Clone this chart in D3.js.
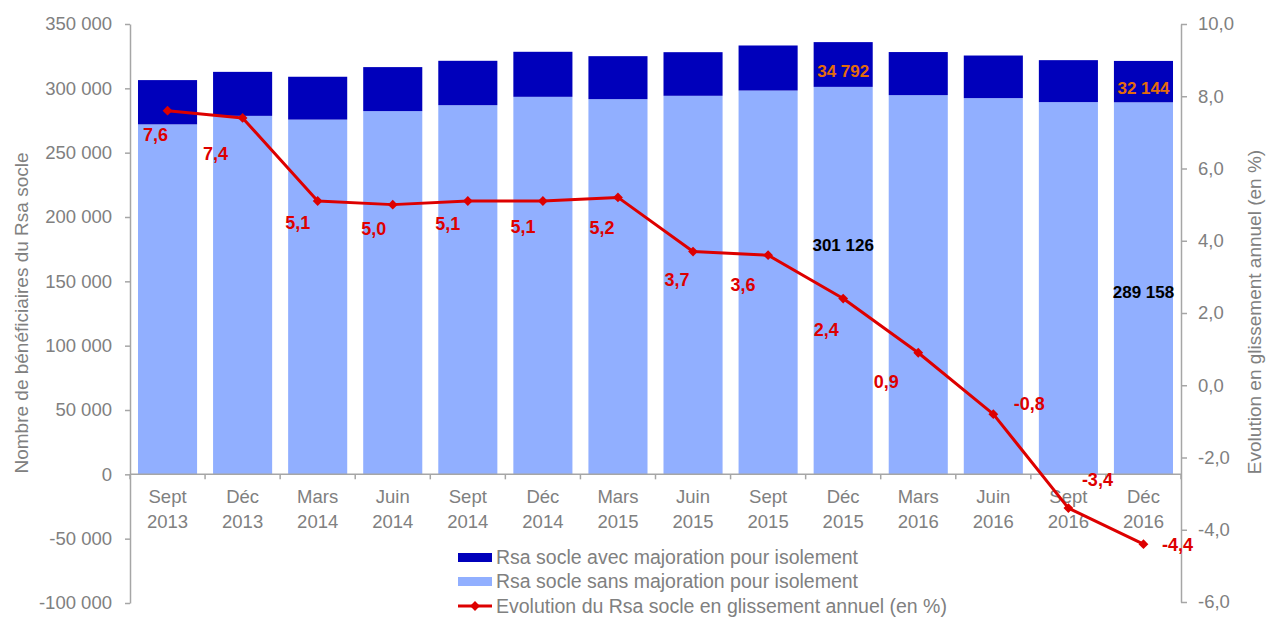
<!DOCTYPE html>
<html lang="fr">
<head>
<meta charset="utf-8">
<script src="https://cdn.jsdelivr.net/npm/d3@7"></script>
<style>
  body { margin: 0; background: #fff; }
  svg { display: block; font-family: "Liberation Sans", Arial, sans-serif; }
</style>
</head>
<body>
<svg id="chart" width="1266" height="617"></svg>
<script>
// Data
const categories = [
    "Sept 2013", "Déc 2013", "Mars 2014", "Juin 2014", "Sept 2014", "Déc 2014", "Mars 2015",
    "Juin 2015", "Sept 2015", "Déc 2015", "Mars 2016", "Juin 2016", "Sept 2016", "Déc 2016"
];
const sansMajoration = [272000, 278600, 275700, 282300, 286900, 293400, 291600, 294200, 298300, 301126, 294700, 292400, 289300, 289158];
const avecMajoration = [34400, 34200, 33300, 34200, 34500, 35000, 33400, 33900, 35000, 34792, 33500, 33100, 32600, 32144];
const evolution = [7.6, 7.4, 5.1, 5.0, 5.1, 5.1, 5.2, 3.7, 3.6, 2.4, 0.9, -0.8, -3.4, -4.4];
const leftTicks = [-100000, -50000, 0, 50000, 100000, 150000, 200000, 250000, 300000, 350000];
const rightTicks = [-6, -4, -2, 0, 2, 4, 6, 8, 10];
const seriesNames = [
    "Rsa socle avec majoration pour isolement",
    "Rsa socle sans majoration pour isolement",
    "Evolution du Rsa socle en glissement annuel (en %)"
];

// label placement (dx, dy from the marker), these were moved by hand in the original
const evolutionLabelOffsets = [[-12, 30], [-27, 42], [-20, 28], [-19, 30], [-20, 29], [-20, 32], [-16, 37],
    [-16, 34], [-25, 36], [-17, 37], [-32, 35], [36, -4], [29, -22], [34, 7]];
// only two bars carry value labels
const valueLabelIndexes = [9, 13];
const valueLabelShift = [-36, 4];

const colors = {
    avec: "#0000bb",
    sans: "#91afff",
    line: "#dd0000",
    orange: "#e46c0a",
    axis: "#a6a6a6",
    text: "#808080"
};

const fr = d3.formatLocale({ decimal: ",", thousands: " ", grouping: [3], currency: ["", " €"], minus: "-" });
const fmtLeft = fr.format(",d");
const fmtRight = fr.format(".1f");

const svg = d3.select("#chart");
const margin = { left: 130, right: 1181, top: 24, bottom: 603 };

const x = d3.scaleBand()
    .domain(categories)
    .range([margin.left, margin.right])
    .paddingInner(0.213)
    .paddingOuter(0.1065);

const yLeft = d3.scaleLinear().domain([-100000, 350000]).range([margin.bottom, margin.top]);
const yRight = d3.scaleLinear().domain([-6, 10]).range([margin.bottom - 1, margin.top]);

const rows = categories.map((c, i) => ({
    cat: c,
    sans: sansMajoration[i],
    avec: avecMajoration[i],
    evo: evolution[i]
}));

// stacked bars
const bars = svg.append("g").attr("class", "bars");
bars.selectAll("rect.sans")
    .data(rows)
    .join("rect")
    .attr("class", "sans")
    .attr("x", d => x(d.cat))
    .attr("width", x.bandwidth())
    .attr("y", d => yLeft(d.sans))
    .attr("height", d => yLeft(0) - yLeft(d.sans))
    .attr("fill", colors.sans);

bars.selectAll("rect.avec")
    .data(rows)
    .join("rect")
    .attr("class", "avec")
    .attr("x", d => x(d.cat))
    .attr("width", x.bandwidth())
    .attr("y", d => yLeft(d.sans + d.avec))
    .attr("height", d => yLeft(d.sans) - yLeft(d.sans + d.avec))
    .attr("fill", colors.avec);

// left axis
const leftAxis = svg.append("g")
    .attr("transform", `translate(${margin.left},0)`)
    .call(d3.axisLeft(yLeft).tickValues(leftTicks).tickFormat(fmtLeft).tickSize(5).tickPadding(13).tickSizeOuter(0));

// right axis
const rightAxis = svg.append("g")
    .attr("transform", `translate(${margin.right},0)`)
    .call(d3.axisRight(yRight).tickValues(rightTicks).tickFormat(fmtRight).tickSize(6).tickPadding(11).tickSizeOuter(0));

[leftAxis, rightAxis].forEach(g => {
    g.select(".domain").attr("stroke", colors.axis).attr("stroke-width", 1.5);
    g.selectAll(".tick line").attr("stroke", colors.axis).attr("stroke-width", 1.5);
    g.selectAll(".tick text")
        .attr("fill", colors.text)
        .style("font-size", "18.5px")
        .style("font-family", "'Liberation Sans', Arial, sans-serif");
});

// category axis sitting on the zero line
const zeroY = yLeft(0);
const xAxis = svg.append("g").attr("class", "x-axis");
xAxis.append("line")
    .attr("x1", margin.left).attr("x2", margin.right)
    .attr("y1", zeroY).attr("y2", zeroY)
    .attr("stroke", colors.axis).attr("stroke-width", 1.5);

const step = x.step();
xAxis.selectAll("line.tick")
    .data(d3.range(categories.length + 1))
    .join("line")
    .attr("class", "tick")
    .attr("x1", i => margin.left + i * step)
    .attr("x2", i => margin.left + i * step)
    .attr("y1", zeroY)
    .attr("y2", zeroY + 5)
    .attr("stroke", colors.axis).attr("stroke-width", 1.5);

const catLabels = xAxis.selectAll("text")
    .data(categories)
    .join("text")
    .attr("x", d => x(d) + x.bandwidth() / 2)
    .attr("y", zeroY + 29)
    .attr("text-anchor", "middle")
    .attr("fill", colors.text)
    .style("font-size", "18.5px");
catLabels.each(function (d) {
    const parts = d.split(" ");
    const t = d3.select(this);
    t.append("tspan").attr("x", t.attr("x")).text(parts[0]);
    t.append("tspan").attr("x", t.attr("x")).attr("dy", 25).text(parts[1]);
});

// axis titles
svg.append("text")
    .attr("transform", "translate(28,313) rotate(-90)")
    .attr("text-anchor", "middle")
    .attr("fill", colors.text)
    .style("font-size", "19px")
    .text("Nombre de bénéficiaires du Rsa socle");

svg.append("text")
    .attr("transform", "translate(1261,312) rotate(-90)")
    .attr("text-anchor", "middle")
    .attr("fill", colors.text)
    .style("font-size", "19px")
    .text("Evolution en glissement annuel (en %)");

// value labels on two bars
valueLabelIndexes.forEach((i, k) => {
    const d = rows[i];
    const cx = x(d.cat) + x.bandwidth() / 2;
    svg.append("text")
        .attr("x", cx)
        .attr("y", (yLeft(d.sans) + yLeft(d.sans + d.avec)) / 2 + 12)
        .attr("text-anchor", "middle")
        .attr("fill", colors.orange)
        .style("font-size", "17px")
        .style("font-weight", "bold")
        .text(fmtLeft(d.avec));
    svg.append("text")
        .attr("x", cx)
        .attr("y", (yLeft(0) + yLeft(d.sans)) / 2 + 6 + valueLabelShift[k])
        .attr("text-anchor", "middle")
        .attr("fill", "#000")
        .style("font-size", "17px")
        .style("font-weight", "bold")
        .text(fmtLeft(d.sans));
});

// evolution line
const line = d3.line()
    .x(d => x(d.cat) + x.bandwidth() / 2)
    .y(d => yRight(d.evo));

svg.append("path")
    .datum(rows)
    .attr("d", line)
    .attr("fill", "none")
    .attr("stroke", colors.line)
    .attr("stroke-width", 3)
    .attr("stroke-linejoin", "round");

// square turned 45deg gives the Excel diamond
const marker = d3.symbol().type(d3.symbolSquare).size(48);
svg.append("g").selectAll("path")
    .data(rows)
    .join("path")
    .attr("d", marker)
    .attr("transform", d => `translate(${x(d.cat) + x.bandwidth() / 2},${yRight(d.evo)}) rotate(45)`)
    .attr("fill", colors.line);

svg.append("g").selectAll("text")
    .data(rows)
    .join("text")
    .attr("x", (d, i) => x(d.cat) + x.bandwidth() / 2 + evolutionLabelOffsets[i][0])
    .attr("y", (d, i) => yRight(d.evo) + evolutionLabelOffsets[i][1])
    .attr("text-anchor", "middle")
    .attr("fill", colors.line)
    .style("font-size", "18px")
    .style("font-weight", "bold")
    .text(d => fmtRight(d.evo));

// legend
const legend = svg.append("g").attr("transform", "translate(458,0)");
const legendRows = [
    { name: seriesNames[0], type: "rect", color: colors.avec, y: 557 },
    { name: seriesNames[1], type: "rect", color: colors.sans, y: 581 },
    { name: seriesNames[2], type: "line", color: colors.line, y: 606 }
];
legendRows.forEach(r => {
    if (r.type === "rect") {
        legend.append("rect")
            .attr("x", 0).attr("y", r.y - 4)
            .attr("width", 34).attr("height", 9)
            .attr("fill", r.color);
    } else {
        legend.append("line")
            .attr("x1", 0).attr("x2", 34)
            .attr("y1", r.y).attr("y2", r.y)
            .attr("stroke", r.color).attr("stroke-width", 3);
        legend.append("path")
            .attr("d", marker)
            .attr("transform", `translate(17,${r.y}) rotate(45)`)
            .attr("fill", r.color);
    }
    legend.append("text")
        .attr("x", 38)
        .attr("y", r.y + 7)
        .attr("fill", colors.text)
        .style("font-size", "19.5px")
        .text(r.name);
});
</script>
</body>
</html>
